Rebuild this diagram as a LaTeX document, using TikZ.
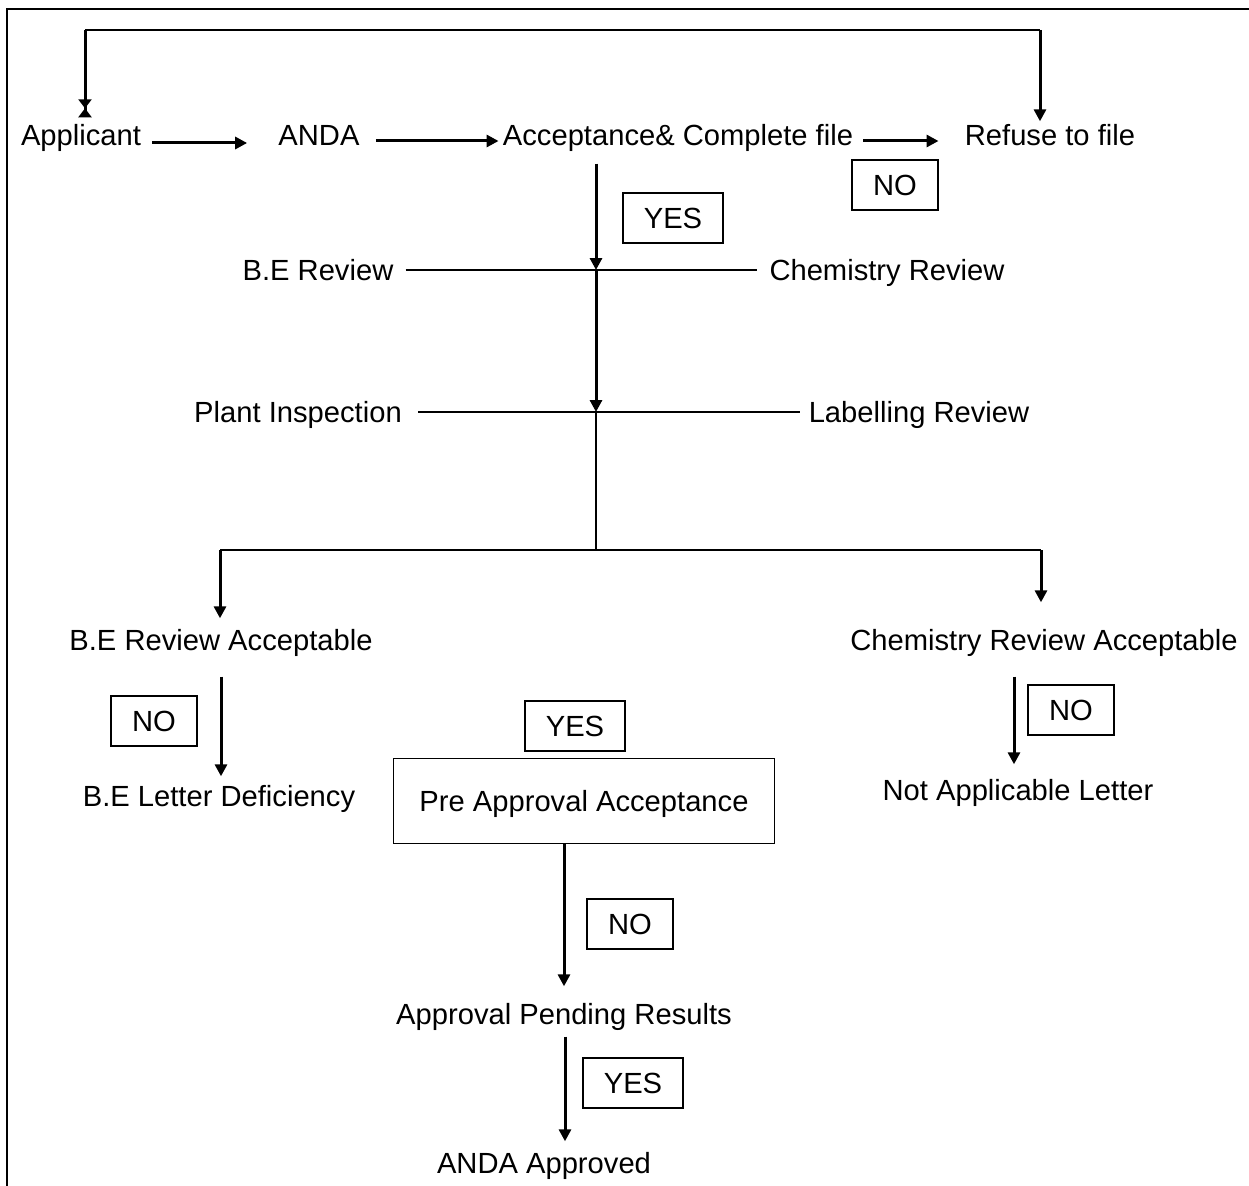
\documentclass[tikz,border=0pt]{standalone}
\usepackage{fontspec}
\setmainfont{Liberation Sans}
\usetikzlibrary{arrows.meta,positioning,calc}

\begin{document}
\begin{tikzpicture}[x=0.02cm, y=-0.02cm, >={Triangle[length=0.24cm,width=0.24cm]}, font=\fontsize{16.6}{20}\selectfont]
\tikzstyle{txt}=[inner sep=0pt, text height=0.72em, text depth=0pt]
\tikzstyle{tag}=[draw, line width=0.03cm, inner xsep=0.42cm, inner ysep=0pt, minimum height=1cm, text height=0.72em+0.16cm, text depth=0pt]
\tikzstyle{heavy}=[line width=0.06cm]
\tikzstyle{light}=[line width=0.035cm]
\useasboundingbox (0,0) rectangle (1249,1186);
% frame
\draw[light] (7,1186) -- (7,9) -- (1249,9);
% top row
\node[txt]    (app)  at (81,139)   {Applicant};
\node[txt]    (anda) at (319,139)  {ANDA};
\node[txt]    (acc)  at (678,139)  {Acceptance\& Complete file};
\node[txt]    (ref)  at (1050,139) {Refuse to file};
\node[tag]    (no1)  at (895,185)  {NO};
\node[tag]    (yes1) at (673,218)  {YES};
% reviews
\node[txt]    (ber)  at (318,274)  {B.E Review};
\node[txt]    (chr)  at (887,274)  {Chemistry Review};
\node[txt]    (pli)  at (298,416)  {Plant Inspection};
\node[txt]    (lar)  at (919,416)  {Labelling Review};
\node[txt]    (bea)  at (221,644)  {B.E Review Acceptable};
\node[txt]    (cra)  at (1044,644) {Chemistry Review Acceptable};
\node[tag]    (no2)  at (154,721)  {NO};
\node[tag]    (no3)  at (1071,710) {NO};
\node[txt]    (bld)  at (219,800)  {B.E Letter Deficiency};
\node[txt]    (nal)  at (1018,794) {Not Applicable Letter};
\node[tag]    (yes2) at (575,726)  {YES};
\node[tag, inner xsep=0.52cm, minimum height=1.7cm] (pre) at (584,801) {Pre Approval Acceptance};
\node[tag]    (no4)  at (630,924)  {NO};
\node[txt]    (apr)  at (564,1018) {Approval Pending Results};
\node[tag]    (yes3) at (633,1083) {YES};
\node[txt]    (aa)   at (544,1167) {ANDA Approved};
\coordinate (tl) at (85,30);
\coordinate (tr) at (1040,30);
\coordinate (c1) at (596,270);
\coordinate (c2) at (596,412);
\coordinate (c3) at (596,550);
\coordinate (bl) at (220,550);
\coordinate (br) at (1041,550);
% connectors
\draw[heavy,->] ([shift={(11,4)}]app.east) -- ([shift={(-31,4)}]anda.west);
\draw[heavy,->] ([shift={(16,2)}]anda.east) -- ([shift={(-4,2)}]acc.west);
\draw[heavy,->] ([shift={(10,2)}]acc.east) -- ([shift={(-26,2)}]ref.west);
\draw[light] (tl) -- (tr);
\draw[heavy,-{Triangle[length=0.18cm,width=0.26cm] Triangle[reversed,length=0.18cm,width=0.26cm]}] (tl) -- ([shift={(4,-15)}]app.north);
\draw[heavy,->] (tr) -- ([shift={(-10,-11)}]ref.north);
\draw[heavy,->] ([shift={(-82,18)}]acc.south) -- (c1);
\draw[heavy,->] (c1) -- (c2);
\draw[light] (c2) -- (c3);
\draw[light] ([shift={(12,-4)}]ber.east) -- ([shift={(-12,-4)}]chr.west);
\draw[light] ([shift={(16,-4)}]pli.east) -- ([shift={(-8,-4)}]lar.west);
\draw[light] (bl) -- (br);
\draw[heavy,->] (bl) -- ([shift={(-1,-19)}]bea.north);
\draw[heavy,->] (br) -- ([shift={(-3,-35)}]cra.north);
\draw[heavy,->] ([shift={(0,26)}]bea.south) -- ([shift={(2,-17)}]bld.north);
\draw[heavy,->] ([shift={(-30,26)}]cra.south) -- ([shift={(-4,-23)}]nal.north);
\draw[heavy,->] ([shift={(-20,0)}]pre.south) -- ([shift={(0,-25)}]apr.north);
\draw[heavy,->] ([shift={(1,12)}]apr.south) -- ([shift={(21,-19)}]aa.north);
\end{tikzpicture}
\end{document}
